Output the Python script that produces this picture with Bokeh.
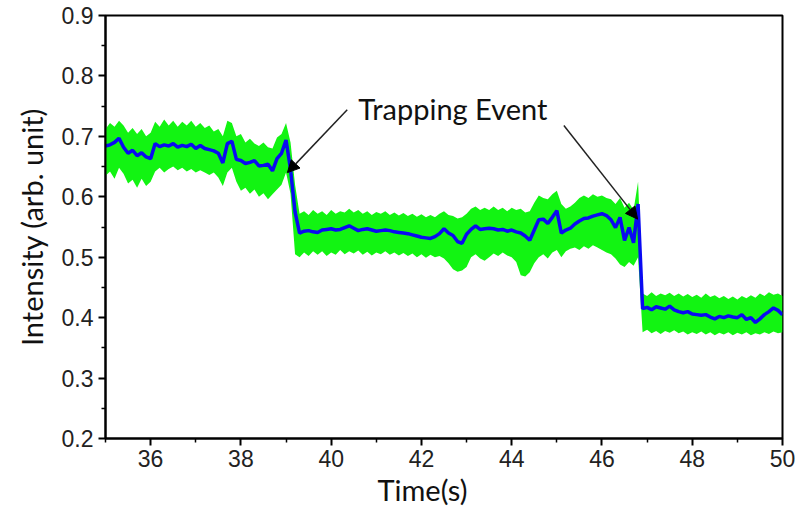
from bokeh.plotting import figure
from bokeh.models import FixedTicker, Arrow, NormalHead, Label, Range1d, ColumnDataSource, Title
from bokeh.embed import file_html
from bokeh.resources import INLINE

# sample times (s), 0.1 s grid
time = [round(35 + 0.1 * i, 1) for i in range(151)]

# smoothed intensity (blue)
smoothed = [
    0.684, 0.686, 0.690, 0.697, 0.682, 0.672, 0.677, 0.668, 0.673, 0.666,
    0.663, 0.688, 0.683, 0.686, 0.684, 0.688, 0.682, 0.685, 0.683, 0.687,
    0.680, 0.685, 0.680, 0.678, 0.676, 0.672, 0.656, 0.688, 0.692, 0.662,
    0.660, 0.655, 0.657, 0.660, 0.651, 0.652, 0.654, 0.643, 0.663, 0.672,
    0.694, 0.645, 0.575, 0.540, 0.543, 0.544, 0.542, 0.541, 0.545, 0.546,
    0.547, 0.545, 0.546, 0.549, 0.552, 0.548, 0.544, 0.546, 0.547, 0.545,
    0.543, 0.544, 0.545, 0.544, 0.542, 0.541, 0.540, 0.539, 0.537, 0.535,
    0.533, 0.532, 0.531, 0.534, 0.539, 0.547, 0.540, 0.536, 0.526, 0.523,
    0.538, 0.546, 0.552, 0.546, 0.547, 0.548, 0.547, 0.545, 0.546, 0.543,
    0.545, 0.542, 0.540, 0.535, 0.528, 0.545, 0.562, 0.563, 0.556, 0.566,
    0.577, 0.540, 0.545, 0.548, 0.555, 0.560, 0.564, 0.565, 0.568, 0.570,
    0.572, 0.569, 0.562, 0.549, 0.566, 0.528, 0.549, 0.524, 0.588, 0.415,
    0.417, 0.413, 0.418, 0.416, 0.414, 0.419, 0.413, 0.410, 0.408, 0.410,
    0.406, 0.405, 0.404, 0.405, 0.401, 0.398, 0.402, 0.400, 0.403, 0.401,
    0.400, 0.405, 0.397, 0.400, 0.392, 0.398, 0.405, 0.410, 0.416, 0.412,
    0.405,
]

# raw-data envelope (green), upper and lower edges
raw_upper = [
    0.712, 0.722, 0.716, 0.726, 0.718, 0.706, 0.714, 0.704, 0.712, 0.700,
    0.706, 0.724, 0.716, 0.728, 0.718, 0.726, 0.716, 0.724, 0.718, 0.726,
    0.716, 0.722, 0.714, 0.718, 0.708, 0.712, 0.700, 0.726, 0.722, 0.700,
    0.704, 0.690, 0.696, 0.688, 0.684, 0.690, 0.682, 0.680, 0.698, 0.704,
    0.722, 0.690, 0.620, 0.572, 0.576, 0.570, 0.578, 0.572, 0.576, 0.570,
    0.578, 0.572, 0.576, 0.574, 0.580, 0.574, 0.578, 0.572, 0.576, 0.570,
    0.575, 0.572, 0.576, 0.570, 0.574, 0.569, 0.573, 0.568, 0.572, 0.567,
    0.571, 0.566, 0.570, 0.566, 0.572, 0.576, 0.570, 0.568, 0.564, 0.566,
    0.572, 0.580, 0.584, 0.578, 0.582, 0.578, 0.584, 0.578, 0.582, 0.576,
    0.582, 0.578, 0.580, 0.574, 0.576, 0.590, 0.602, 0.598, 0.596, 0.604,
    0.610, 0.588, 0.580, 0.584, 0.590, 0.598, 0.602, 0.598, 0.604, 0.600,
    0.602, 0.598, 0.596, 0.588, 0.598, 0.582, 0.590, 0.578, 0.625, 0.440,
    0.436, 0.442, 0.436, 0.440, 0.437, 0.441, 0.436, 0.440, 0.435, 0.439,
    0.434, 0.438, 0.433, 0.440, 0.434, 0.437, 0.432, 0.436, 0.431, 0.435,
    0.430, 0.436, 0.432, 0.437, 0.433, 0.440, 0.436, 0.442, 0.438, 0.440,
    0.436,
]
raw_lower = [
    0.635, 0.642, 0.630, 0.648, 0.638, 0.622, 0.628, 0.615, 0.630, 0.618,
    0.625, 0.642, 0.648, 0.640, 0.646, 0.650, 0.644, 0.648, 0.642, 0.646,
    0.640, 0.644, 0.640, 0.636, 0.640, 0.632, 0.618, 0.640, 0.648, 0.625,
    0.610, 0.615, 0.605, 0.612, 0.600, 0.606, 0.596, 0.604, 0.612, 0.620,
    0.640, 0.605, 0.505, 0.500, 0.508, 0.502, 0.510, 0.504, 0.510, 0.502,
    0.508, 0.504, 0.512, 0.505, 0.510, 0.506, 0.511, 0.504, 0.509, 0.503,
    0.508, 0.505, 0.510, 0.504, 0.508, 0.503, 0.507, 0.502, 0.506, 0.500,
    0.505, 0.499, 0.504, 0.500, 0.502, 0.498, 0.490, 0.480, 0.476, 0.478,
    0.484, 0.500, 0.505, 0.498, 0.494, 0.500, 0.506, 0.502, 0.508, 0.503,
    0.500, 0.492, 0.470, 0.468, 0.475, 0.490, 0.500, 0.505, 0.498, 0.508,
    0.512, 0.500, 0.510, 0.514, 0.516, 0.512, 0.518, 0.514, 0.520, 0.516,
    0.512, 0.508, 0.505, 0.498, 0.488, 0.484, 0.492, 0.486, 0.500, 0.376,
    0.380, 0.374, 0.378, 0.373, 0.378, 0.375, 0.379, 0.374, 0.377, 0.372,
    0.376, 0.373, 0.377, 0.372, 0.376, 0.371, 0.375, 0.372, 0.376, 0.371,
    0.375, 0.372, 0.376, 0.371, 0.374, 0.372, 0.376, 0.373, 0.377, 0.374,
    0.376,
]

x_ticks = [36, 38, 40, 42, 44, 46, 48, 50]
x_minor = [35, 37, 39, 41, 43, 45, 47, 49]
y_ticks = [0.2, 0.3, 0.4, 0.5, 0.6, 0.7, 0.8, 0.9]
y_minor = [0.25, 0.35, 0.45, 0.55, 0.65, 0.75, 0.85]

src = ColumnDataSource(dict(t=time, b=smoothed, u=raw_upper, l=raw_lower))

p = figure(width=795, height=516, x_range=Range1d(35, 50), y_range=Range1d(0.2, 0.9),
           output_backend="svg", toolbar_location=None,
           min_border_left=105, min_border_right=13, min_border_top=15, min_border_bottom=78)
p.background_fill_color = "white"
p.border_fill_color = "white"
p.grid.visible = False
p.outline_line_color = "black"
p.outline_line_width = 2
p.outline_line_alpha = 1

p.varea(x="t", y1="l", y2="u", source=src, fill_color="#12f412", fill_alpha=1)
p.line(x="t", y="b", source=src, line_color="#0a0af2", line_width=3.5)

for ax in (p.xaxis[0], p.yaxis[0]):
    ax.axis_line_width = 2
    ax.axis_line_color = "black"
    ax.major_tick_out = 7
    ax.major_tick_in = 0
    ax.minor_tick_out = 4
    ax.minor_tick_in = 0
    ax.major_tick_line_width = 2
    ax.minor_tick_line_width = 1.5
    ax.major_tick_line_color = "black"
    ax.minor_tick_line_color = "black"
    ax.major_label_text_font = "Liberation Sans"
    ax.major_label_text_font_size = "23px"
    ax.major_label_text_color = "#222222"
    ax.axis_label_text_font = "Lato"
    ax.axis_label_text_font_size = "29px"
    ax.axis_label_text_font_style = "normal"
    ax.axis_label_text_color = "#111111"

p.xaxis[0].ticker = FixedTicker(ticks=x_ticks, minor_ticks=x_minor)
p.yaxis[0].ticker = FixedTicker(ticks=y_ticks, minor_ticks=y_minor)
p.yaxis[0].axis_label = "Intensity (arb. unit)"
p.xaxis[0].major_label_standoff = 4
p.yaxis[0].major_label_standoff = 5
p.yaxis[0].axis_label_standoff = 10

# x-axis title, slightly left of centre as in the reference
p.add_layout(Title(text="Time(s)", align="left", offset=272, standoff=0,
                   text_font="Lato", text_font_size="29px", text_font_style="normal",
                   text_color="#111111"), "below")

p.add_layout(Label(x=40.6, y=0.746, text="Trapping Event", text_font="Lato",
                   text_font_size="29px", text_color="#111111",
                   text_baseline="middle", text_align="left"))

head1 = NormalHead(size=12, fill_color="black", line_color="black")
head2 = NormalHead(size=12, fill_color="black", line_color="black")
p.add_layout(Arrow(end=head1, x_start=40.356, y_start=0.744, x_end=39.03, y_end=0.640,
                   line_color="#222222", line_width=1.5))
p.add_layout(Arrow(end=head2, x_start=45.156, y_start=0.718, x_end=46.79, y_end=0.563,
                   line_color="#222222", line_width=1.5))

open("out.html", "w").write(file_html(p, INLINE))
